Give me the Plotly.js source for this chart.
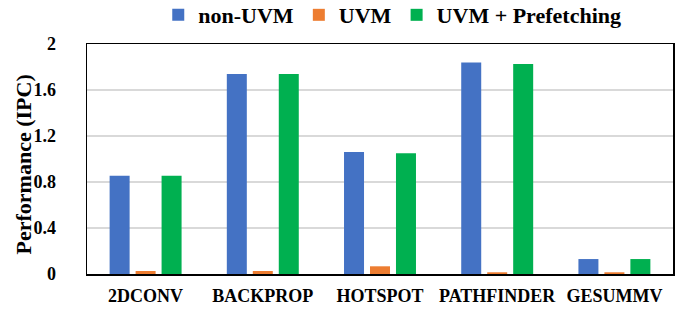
<!DOCTYPE html>
<html>
<head>
<meta charset="utf-8">
<script src="https://cdn.plot.ly/plotly-3.0.1.min.js"></script>
<style>html,body{margin:0;padding:0;background:#fff;}#chart{width:683px;height:309px;}</style>
</head>
<body>
<div id="chart"></div>
<script>
const categories = ["2DCONV", "BACKPROP", "HOTSPOT", "PATHFINDER", "GESUMMV"];
const nonUVM = [0.855, 1.74, 1.06, 1.84, 0.13];
const uvm = [0.026, 0.026, 0.067, 0.015, 0.015];
const uvmPrefetch = [0.855, 1.74, 1.05, 1.826, 0.13];
const seriesNames = ["non-UVM", "UVM", "UVM + Prefetching"];
const yTicks = [0, 0.4, 0.8, 1.2, 1.6, 2];
const yTickLabels = ["0", "0.4", "0.8", "1.2", "1.6", "2"];
const yTitle = "Performance (IPC)";

const FONT = "Liberation Serif";
const colors = ["#4472C4", "#ED7D31", "#00B050"];
const series = [nonUVM, uvm, uvmPrefetch];

const traces = series.map((vals, i) => ({
  type: "bar",
  name: seriesNames[i],
  x: categories,
  y: vals,
  marker: {color: colors[i], line: {width: 0}},
  hoverinfo: "none"
}));

const layout = {
  width: 683,
  height: 309,
  margin: {l: 87, r: 10, t: 44, b: 35, autoexpand: false},
  paper_bgcolor: "#ffffff",
  plot_bgcolor: "#ffffff",
  barmode: "group",
  bargap: 0.335,
  bargroupgap: 0.23,
  showlegend: true,
  font: {family: FONT, color: "#000", weight: "bold"},
  legend: {
    orientation: "h",
    x: 0.1216,
    xanchor: "left",
    y: 1.126,
    yanchor: "middle",
    font: {family: FONT, size: 22, color: "#000", weight: "bold"},
    itemwidth: 30,
    bgcolor: "rgba(0,0,0,0)"
  },
  xaxis: {
    type: "category",
    tickfont: {family: FONT, size: 18, color: "#000", weight: "bold"},
    showline: true,
    linecolor: "#000",
    linewidth: 1.5,
    mirror: true,
    ticks: "",
    ticklabelstandoff: 5,
    showgrid: false,
    zeroline: false
  },
  yaxis: {
    range: [0, 2],
    tickvals: yTicks,
    ticktext: yTickLabels,
    tickfont: {family: FONT, size: 18, color: "#000", weight: "bold"},
    showline: true,
    linecolor: "#000",
    linewidth: 1.5,
    mirror: true,
    ticks: "",
    ticklabelstandoff: 26,
    showgrid: true,
    gridcolor: "#d9d9d9",
    gridwidth: 1.5,
    zeroline: false
  },
  annotations: [{
    text: yTitle,
    xref: "paper",
    yref: "paper",
    x: -63.5 / 586,
    y: 0.474,
    xanchor: "center",
    yanchor: "middle",
    textangle: -90,
    showarrow: false,
    font: {family: FONT, size: 22, color: "#000", weight: "bold"}
  }]
};

Plotly.newPlot("chart", traces, layout, {staticPlot: true, displayModeBar: false});
</script>
</body>
</html>
